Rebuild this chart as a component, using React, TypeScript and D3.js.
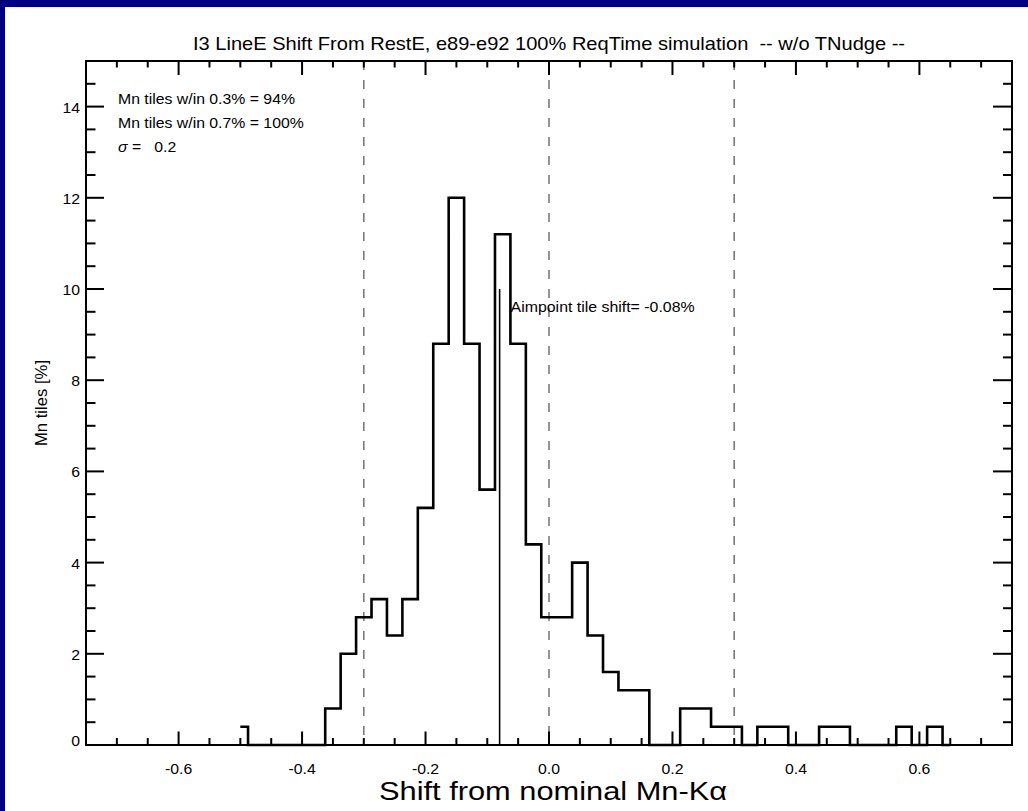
import React from "react";
import * as d3 from "d3";

// Canvas and plot frame
const W = 1028;
const H = 811;
const frame = { left: 86, right: 1012, top: 61, bottom: 745 };

// Histogram of line-energy shifts (bin centres and percentage of Mn tiles)
const binCenters = [
  -0.5, -0.475, -0.45, -0.425, -0.4, -0.375, -0.35, -0.325, -0.3, -0.275,
  -0.25, -0.225, -0.2, -0.175, -0.15, -0.125, -0.1, -0.075, -0.05, -0.025,
  0.0, 0.025, 0.05, 0.075, 0.1, 0.125, 0.15, 0.175, 0.2, 0.225,
  0.25, 0.275, 0.3, 0.325, 0.35, 0.375, 0.4, 0.425, 0.45, 0.475,
  0.5, 0.525, 0.55, 0.575, 0.6, 0.625, 0.65,
];
const tilePercent = [
  0.4, 0, 0, 0, 0, 0, 0.8, 2.0, 2.8, 3.2,
  2.4, 3.2, 5.2, 8.8, 12.0, 8.8, 5.6, 11.2, 8.8, 4.4,
  2.8, 2.8, 4.0, 2.4, 1.6, 1.2, 1.2, 0, 0, 0.8,
  0.8, 0.4, 0.4, 0, 0.4, 0.4, 0, 0, 0.4, 0.4,
  0, 0, 0, 0.4, 0, 0.4, 0,
];

// Axes
const xDomain = [-0.75, 0.75];
const yDomain = [0, 15];
const xTickValues = [-0.6, -0.4, -0.2, 0, 0.2, 0.4, 0.6];
const xTickLabels = ["-0.6", "-0.4", "-0.2", "0.0", "0.2", "0.4", "0.6"];
const yTickValues = [0, 2, 4, 6, 8, 10, 12, 14];
const yTickLabels = ["0", "2", "4", "6", "8", "10", "12", "14"];

// Reference markers
const limitLines = [-0.3, 0, 0.3];
const aimpointShift = -0.08;
const aimpointMarkerTop = 10;

// Texts
const titleText =
  "I3 LineE Shift From RestE, e89-e92 100% ReqTime simulation  -- w/o TNudge --";
const xTitle = "Shift from nominal Mn-K\u03b1";
const yTitle = "Mn tiles [%]";
const statLines = ["Mn tiles w/in 0.3% = 94%", "Mn tiles w/in 0.7% = 100%"];
const sigmaValue = "0.2";
const aimpointLabel = "Aimpoint tile shift= -0.08%";

const FONT = "'Liberation Sans', Arial, Helvetica, sans-serif";
const TEXT_SX = 1.13;

export default function App() {
  const x = d3.scaleLinear().domain(xDomain).range([frame.left, frame.right]);
  const y = d3.scaleLinear().domain(yDomain).range([frame.bottom, frame.top]);

  const points = binCenters.map((c, i) => [c, tilePercent[i]] as [number, number]);
  const stepLine = d3
    .line<[number, number]>()
    .x((d) => x(d[0]))
    .y((d) => y(d[1]))
    .curve(d3.curveStep);

  const xMinor = d3
    .range(-14, 15)
    .map((k) => k * 0.05)
    .filter((v) => !xTickValues.some((m) => Math.abs(m - v) < 1e-6));
  const yMinor = d3
    .range(1, 30)
    .map((k) => k * 0.5)
    .filter((v) => !yTickValues.some((m) => Math.abs(m - v) < 1e-6));

  const tickStyle = { stroke: "#000", strokeWidth: 2 };

  return (
    <svg
      width={W}
      height={H}
      style={{ position: "absolute", left: 0, top: 0, display: "block" }}
      fontFamily={FONT}
    >
      <rect width={W} height={H} fill="#000080" />
      <rect x={5} y={7} width={W - 5} height={H - 7} fill="#ffffff" />

      {/* title */}
      <text
        x={(frame.left + frame.right) / 2}
        y={50}
        fontSize={18.5}
        textAnchor="middle"
        textLength={712}
        lengthAdjust="spacingAndGlyphs"
        style={{ whiteSpace: "pre" }}
      >
        {titleText}
      </text>

      {/* limit lines */}
      {limitLines.map((v) => (
        <line
          key={"lim" + v}
          x1={x(v)}
          x2={x(v)}
          y1={frame.top}
          y2={frame.bottom}
          stroke="#7a7a7a"
          strokeWidth={1.6}
          strokeDasharray="9 10"
        />
      ))}

      {/* histogram */}
      <path
        d={stepLine(points) || ""}
        fill="none"
        stroke="#000"
        strokeWidth={2.6}
        strokeLinejoin="miter"
      />

      {/* aimpoint marker */}
      <line
        x1={x(aimpointShift)}
        x2={x(aimpointShift)}
        y1={y(0)}
        y2={y(aimpointMarkerTop)}
        stroke="#000"
        strokeWidth={1.6}
      />
      <text
        x={x(aimpointShift) + 11}
        y={312}
        fontSize={15.5}
        textLength={184}
        lengthAdjust="spacingAndGlyphs"
      >
        {aimpointLabel}
      </text>

      {/* frame */}
      <rect
        x={frame.left}
        y={frame.top}
        width={frame.right - frame.left}
        height={frame.bottom - frame.top}
        fill="none"
        stroke="#000"
        strokeWidth={2}
      />

      {/* x ticks, bottom and top */}
      {xTickValues.map((v) => (
        <g key={"xM" + v}>
          <line x1={x(v)} x2={x(v)} y1={frame.bottom} y2={frame.bottom - 13.5} {...tickStyle} />
          <line x1={x(v)} x2={x(v)} y1={frame.top} y2={frame.top + 14} {...tickStyle} />
        </g>
      ))}
      {xMinor.map((v) => (
        <g key={"xm" + v}>
          <line x1={x(v)} x2={x(v)} y1={frame.bottom} y2={frame.bottom - 7} {...tickStyle} />
          <line x1={x(v)} x2={x(v)} y1={frame.top} y2={frame.top + 6.5} {...tickStyle} />
        </g>
      ))}

      {/* y ticks, left and right */}
      {yTickValues.map((v) => (
        <g key={"yM" + v}>
          <line x1={frame.left} x2={frame.left + 18} y1={y(v)} y2={y(v)} {...tickStyle} />
          <line x1={frame.right} x2={frame.right - 19} y1={y(v)} y2={y(v)} {...tickStyle} />
        </g>
      ))}
      {yMinor.map((v) => (
        <g key={"ym" + v}>
          <line x1={frame.left} x2={frame.left + 9.5} y1={y(v)} y2={y(v)} {...tickStyle} />
          <line x1={frame.right} x2={frame.right - 9} y1={y(v)} y2={y(v)} {...tickStyle} />
        </g>
      ))}

      {/* tick labels */}
      {xTickValues.map((v, i) => (
        <text
          key={"xl" + v}
          transform={`translate(${x(v)},774) scale(${TEXT_SX},1)`}
          fontSize={14}
          textAnchor="middle"
        >
          {xTickLabels[i]}
        </text>
      ))}
      {yTickValues.map((v, i) => (
        <text
          key={"yl" + v}
          transform={`translate(80,${y(v) + (v === 0 ? 1 : 6)}) scale(${TEXT_SX},1)`}
          fontSize={14}
          textAnchor="end"
        >
          {yTickLabels[i]}
        </text>
      ))}

      {/* axis titles */}
      <text
        x={553}
        y={800}
        fontSize={25}
        textAnchor="middle"
        textLength={348}
        lengthAdjust="spacingAndGlyphs"
      >
        {xTitle}
      </text>
      <text
        transform={`translate(47,403) rotate(-90)`}
        fontSize={16}
        textAnchor="middle"
        textLength={86}
        lengthAdjust="spacingAndGlyphs"
      >
        {yTitle}
      </text>

      {/* statistics block */}
      {statLines.map((s, i) => (
        <text
          key={"st" + i}
          transform={`translate(118,${103.5 + i * 24}) scale(${TEXT_SX},1)`}
          fontSize={14}
        >
          {s}
        </text>
      ))}
      <text
        transform={`translate(118,151.5) scale(${TEXT_SX},1)`}
        fontSize={14}
        style={{ whiteSpace: "pre" }}
      >
        <tspan fontStyle="italic">{"\u03c3"}</tspan>
        <tspan>{" =   " + sigmaValue}</tspan>
      </text>
    </svg>
  );
}
